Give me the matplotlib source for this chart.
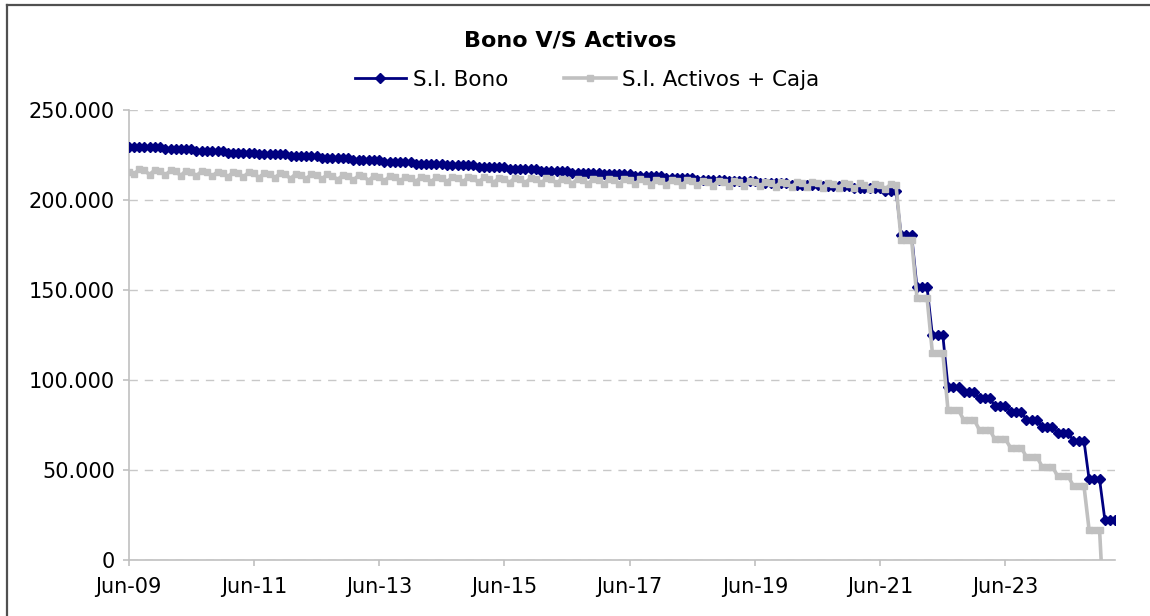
import matplotlib
matplotlib.use("Agg")
import matplotlib.pyplot as plt
from matplotlib.lines import Line2D
import numpy as np
import pandas as pd

# monthly series starting Jun-09 (values in thousands)
start_month = "2009-06-01"

# S.I. Bono: semi-annual levels (first one covers 7 months, last one 3), then quarterly
bono_semestral = [229.6, 228.5, 227.4, 226.3, 225.3, 224.2, 223.2, 222.2, 221.2,
                  220.2, 219.2, 218.2, 217.2, 216.2, 215.2, 214.2, 213.2, 212.2,
                  211.2, 210.3, 209.4, 208.5, 207.6, 206.5, 205.2]
bono_meses_sem = [7] + [6] * 23 + [3]
bono_trimestral = [180.5, 151.6, 124.8, 96.3, 93.2, 89.8, 85.6, 82.4, 77.8,
                   74.1, 70.4, 66.3, 44.8, 22.2]

# S.I. Activos + Caja: monthly up to month 147, then quarterly levels
activos_mensual = [215.5,
    214.3, 217.0, 216.4, 214.1, 216.8, 216.2, 213.8, 216.5, 215.9,
    213.6, 216.3, 215.7, 213.4, 216.1, 215.5, 213.1, 215.8, 215.2,
    212.9, 215.6, 215.0, 212.7, 215.4, 214.8, 212.4, 215.1, 214.5,
    212.2, 214.9, 214.3, 211.9, 214.6, 214.0, 211.7, 214.4, 213.8,
    211.5, 214.2, 213.6, 211.2, 213.9, 213.3, 211.0, 213.7, 213.1,
    210.8, 213.5, 212.9, 210.5, 213.2, 212.6, 210.3, 213.0, 212.4,
    210.2, 212.9, 212.3, 210.1, 212.8, 212.2, 210.0, 212.7, 212.1,
    209.9, 212.6, 212.0, 209.8, 212.5, 211.9, 209.7, 212.4, 211.8,
    209.6, 212.3, 211.7, 209.5, 212.2, 211.6, 209.3, 212.0, 211.4,
    209.2, 211.9, 211.3, 209.1, 211.8, 211.2, 209.0, 211.7, 211.1,
    208.9, 211.6, 211.0, 208.8, 211.5, 210.9, 208.7, 211.4, 210.8,
    208.5, 211.2, 210.6, 208.4, 211.1, 210.5, 208.2, 210.9, 210.3,
    208.1, 210.8, 210.2, 208.0, 210.7, 210.1, 207.8, 210.5, 209.9,
    207.7, 210.4, 209.8, 207.5, 210.2, 209.6, 207.4, 210.1, 209.5,
    207.2, 209.9, 209.3, 207.1, 209.8, 209.2, 206.9, 209.6, 209.0,
    206.7, 209.4, 208.8, 206.5, 209.2, 208.6, 206.3, 209.0, 208.4,
    206.1, 208.8, 208.2]
activos_trimestral = [177.8, 145.8, 115.0, 83.2, 77.8, 72.2, 67.1, 62.4, 57.4,
                      51.9, 46.5, 41.2, 16.7]
activos_final = [-40.0]

bono = np.concatenate([np.repeat(bono_semestral, bono_meses_sem),
                       np.repeat(bono_trimestral, 3)])
activos = np.concatenate([activos_mensual, np.repeat(activos_trimestral, 3),
                          activos_final])
fechas = pd.date_range(start_month, periods=len(bono), freq="MS")
tick_fechas = fechas[::24]

W, H = 1150, 616
fig = plt.figure(figsize=(W / 100, H / 100), dpi=100)
plt.rcParams['font.family'] = ['DejaVu Sans']

ax = fig.add_axes([128.7 / W, 56 / H, (1115 - 128.7) / W, 450 / H])

ax.plot(fechas, bono, color='#000080', lw=2.0, marker='D', ms=5.5,
        label='S.I. Bono', zorder=3)
ax.plot(fechas[:len(activos)], activos, color='#c0c0c0', lw=2.6, marker='s',
        ms=5, label='S.I. Activos + Caja', zorder=4)

ax.set_xlim(fechas[0], fechas[-1])
ax.set_ylim(0, 250)
ax.set_yticks(np.arange(0, 251, 50))
ax.set_yticklabels([f"{int(v * 1000):,}".replace(",", ".") for v in np.arange(0, 251, 50)])
ax.set_xticks(tick_fechas)
ax.set_xticklabels([d.strftime('%b-%y') for d in tick_fechas])

ax.grid(axis='y', color='#c8c8c8', lw=1, linestyle=(0, (6, 5)))
ax.set_axisbelow(True)
for s in ['top', 'right']:
    ax.spines[s].set_visible(False)
for s in ['left', 'bottom']:
    ax.spines[s].set_color('#c0c0c0')
    ax.spines[s].set_linewidth(1.2)
ax.tick_params(axis='both', colors='#c0c0c0', length=4, width=1.2,
               labelcolor='black', labelsize=15)
ax.tick_params(axis='y', pad=6)
ax.tick_params(axis='x', pad=8)

fig.text(570 / W, 1 - 40 / H, 'Bono V/S Activos', ha='center', va='center',
         fontsize=16, fontweight='bold')
fig.legend(loc='center', bbox_to_anchor=(587 / W, 1 - 80 / H), ncol=2,
           frameon=False, fontsize=15.5, handlelength=2.4, columnspacing=2.6,
           handletextpad=0.3)

# chart area border (left and top edges fall inside the picture)
fig.add_artist(Line2D([7 / W, 7 / W], [0, 1 - 5 / H], transform=fig.transFigure,
                      color='#505050', lw=1.6))
fig.add_artist(Line2D([7 / W, 1], [1 - 5 / H, 1 - 5 / H], transform=fig.transFigure,
                      color='#505050', lw=1.6))

fig.savefig('out.png', dpi=100)
